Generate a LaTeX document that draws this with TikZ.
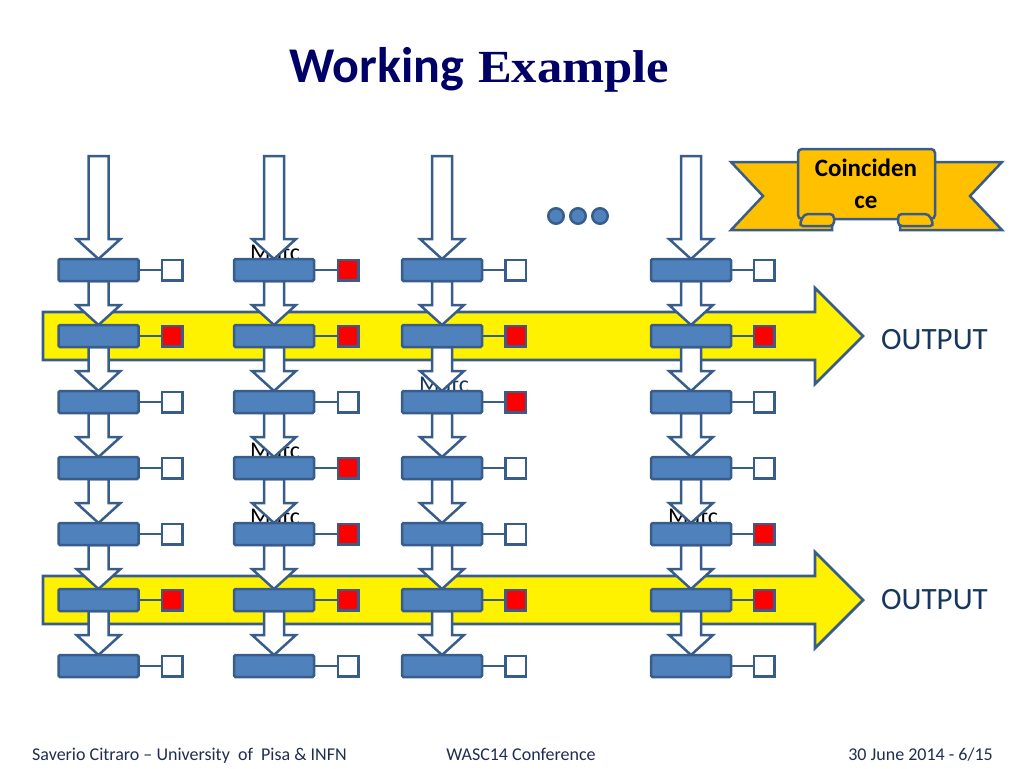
\documentclass[tikz,border=0pt]{standalone}
\usepackage{graphicx}
\usepackage{fontspec}
\setmainfont{Carlito}
\newfontfamily\serifbf{Liberation Serif}
\usetikzlibrary{calc}
\definecolor{blkfill}{RGB}{79,129,189}
\definecolor{blkline}{RGB}{56,93,138}
\definecolor{navy}{RGB}{0,0,102}
\definecolor{outtxt}{RGB}{23,55,94}
\definecolor{gold}{RGB}{255,192,0}
\definecolor{foot}{RGB}{31,45,80}
\pgfdeclarelayer{back}
\pgfdeclarelayer{mid}
\pgfsetlayers{back,mid,main}
\tikzset{
 blk/.style={draw=blkline, fill=blkfill, line width=2.5pt, minimum width=80pt, minimum height=22pt, inner sep=0pt, outer sep=0pt, rounded corners=1.5pt},
 sqbox/.style={draw=blkline, line width=2.5pt, minimum size=20.5pt, inner sep=0pt, outer sep=0pt, fill=white},
 link/.style={draw=blkline, line width=1.8pt},
 varr/.style={draw=blkline, fill=white, line width=2.5pt, line join=miter},
 yarr/.style={draw=blkline, fill=yellow, line width=2.8pt, line join=miter},
 matc/.style={anchor=base west, inner sep=0pt, font=\fontsize{24}{24}\selectfont},
 dot/.style={circle, draw=blkline, fill=blkfill, line width=2.5pt, minimum size=15.5pt, inner sep=0pt},
 ban/.style={draw=blkline, fill=gold, line width=2.5pt, line join=miter},
 outlbl/.style={anchor=west, inner sep=0pt, text=outtxt, font=\fontsize{31}{31}\selectfont},
 foottxt/.style={inner sep=0pt, text=foot, font=\fontsize{18}{18}\selectfont},
}
\newcommand\blkarrow[2]{\draw[varr] let \p1=(#1), \p2=(#2) in
 (\x1-10pt,\y1) -- (\x1+10pt,\y1) -- (\x1+10pt,\y2+20pt) -- (\x1+22pt,\y2+20pt) -- (\x1,\y2) -- (\x1-22pt,\y2+20pt) -- (\x1-10pt,\y2+20pt) -- cycle;}
\newcommand\cell[5]{%
  \pgfmathsetmacro\yy{270+66*(#1-1)}%
  \node[blk] (b#1#2) at (#3,\yy) {};
  \node[sqbox, fill=#5] (s#1#2) at (#4,\yy) {};
  \draw[link] (b#1#2) -- (s#1#2);
}
\begin{document}
\begin{tikzpicture}[x=1pt,y=-1pt]
\useasboundingbox (0,0) rectangle (1024,768);
% blocks and squares
\foreach \r/\fa/\fb/\fc/\fd in {1/white/red/white/white, 2/red/red/red/red, 3/white/white/red/white, 4/white/red/white/white, 5/white/red/white/red, 6/red/red/red/red, 7/white/white/white/white}{
  \cell{\r}{1}{98.5}{172}{\fa}
  \cell{\r}{2}{274}{348}{\fb}
  \cell{\r}{3}{442}{515.5}{\fc}
  \cell{\r}{4}{691}{764}{\fd}
}
% Matc labels behind everything
\begin{pgfonlayer}{back}
\node[matc] (m12) at ($(b12.north west)+(16,1)$) {Matc};
\node[matc, text=outtxt] (m33) at ($(b33.north west)+(17,1)$) {Matc};
\node[matc] (m42) at ($(b42.north west)+(16,1)$) {Matc};
\node[matc] (m52) at ($(b52.north west)+(16,1)$) {Matc};
\node[matc] (m54) at ($(b54.north west)+(17,1)$) {Matc};
% yellow output arrows
\draw[yarr] (43,312) -- (815,312) -- (815,288) -- (863,336) -- (815,384) -- (815,360) -- (43,360) -- cycle;
\draw[yarr] (43,576) -- (815,576) -- (815,552) -- (863,600) -- (815,648) -- (815,624) -- (43,624) -- cycle;
\end{pgfonlayer}
% vertical block arrows
\begin{pgfonlayer}{mid}
\foreach \c/\bx in {1/98.5,2/274,3/442,4/691}{
  \coordinate (t\c) at (\bx,156);
  \blkarrow{t\c}{b1\c.north}
  \foreach \r [evaluate=\r as \nr using int(\r+1)] in {1,...,6}{
    \blkarrow{b\r\c.south}{b\nr\c.north}
  }
}
\end{pgfonlayer}
% OUTPUT labels
\node[outlbl] (o1) at (881,340) {OUTPUT};
\node[outlbl] (o2) at (881,600) {OUTPUT};
% dots
\node[dot] (d1) at (556,216) {};
\node[dot] (d2) at (578,216) {};
\node[dot] (d3) at (600,216) {};
% banner
\draw[ban] (731,162) -- (832,162) -- (832,230) -- (731,230) -- (763,196) -- cycle;
\draw[ban] (1002,162) -- (900,162) -- (900,230) -- (1002,230) -- (970,196) -- cycle;
\draw[ban, rounded corners=4pt] (798,149) rectangle (935,219);
\draw[ban, rounded corners=4pt] (834,214) -- (804,214) -- (799,226) -- (834,226) -- cycle;
\draw[ban, rounded corners=4pt] (898,214) -- (929,214) -- (934,226) -- (898,226) -- cycle;
\node[font=\bfseries\fontsize{25}{32}\selectfont, align=center, inner sep=0pt] (coin) at (866,184) {Coinciden\\ce};
% title
\node[anchor=base west, inner sep=0pt, text=navy] (title) at (289,82) {\fontsize{50}{50}\selectfont\bfseries Working\hspace{14pt}\scalebox{1.1}[1]{\serifbf\bfseries\fontsize{46}{46}\selectfont Example}};
% footer
\node[foottxt, anchor=base west] (f1) at (32,760) {Saverio Citraro \textendash{} University\ \ of\ \ Pisa \& INFN};
\node[foottxt, anchor=base] (f2) at (521,760) {WASC14 Conference};
\node[foottxt, anchor=base east] (f3) at (993,760) {30 June 2014 - 6/15};
\end{tikzpicture}
\end{document}
